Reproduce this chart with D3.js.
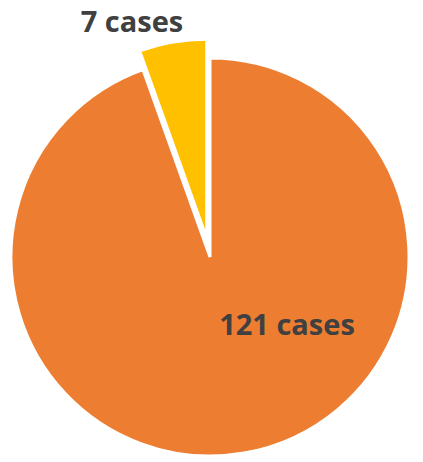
<!DOCTYPE html>
<html>
<head>
<meta charset="utf-8">
<script src="https://cdn.jsdelivr.net/npm/d3@7"></script>
<style>
  body { margin: 0; background: #fff; }
  text { font-family: "Open Sans", "DejaVu Sans", sans-serif; font-weight: bold; fill: #404040; }
</style>
</head>
<body>
<script>
var svgWidth = 423;
var svgHeight = 462;

var categories = ["Other", "Highlighted"];
var caseCounts = [121, 7];
var labels = ["121 cases", "7 cases"];
var colors = ["#ED7D31", "#FFC000"];

var cx = 210, cy = 257, radius = 199;

var svg = d3.select("body")
    .append("svg")
    .attr("width", svgWidth)
    .attr("height", svgHeight);

var pieGroup = svg.append("g")
    .attr("transform", `translate(${cx}, ${cy})`);

var pie = d3.pie().sort(null).value(d => d);
var arcs = pie(caseCounts);

var arc = d3.arc().innerRadius(0).outerRadius(radius);

// the small slice is pulled out of the pie
var explode = [0, 19];

function shift(d, i) {
    var mid = (d.startAngle + d.endAngle) / 2;
    return [Math.sin(mid) * explode[i], -Math.cos(mid) * explode[i]];
}

pieGroup.selectAll("path.slice")
    .data(arcs)
    .enter()
    .append("path")
    .attr("class", "slice")
    .attr("d", arc)
    .attr("transform", (d, i) => `translate(${shift(d, i)})`)
    .attr("fill", (d, i) => colors[i])
    .attr("stroke", "#fff")
    .attr("stroke-width", 3)
    .attr("stroke-linejoin", "miter");

// label spots, relative to the pie centre
var labelPos = [[77, 78], [-78, -225]];

pieGroup.selectAll("text.lbl")
    .data(arcs)
    .enter()
    .append("text")
    .attr("class", "lbl")
    .attr("x", (d, i) => labelPos[i][0])
    .attr("y", (d, i) => labelPos[i][1])
    .attr("text-anchor", "middle")
    .style("font-size", "29px")
    .text((d, i) => labels[i]);
</script>
</body>
</html>
